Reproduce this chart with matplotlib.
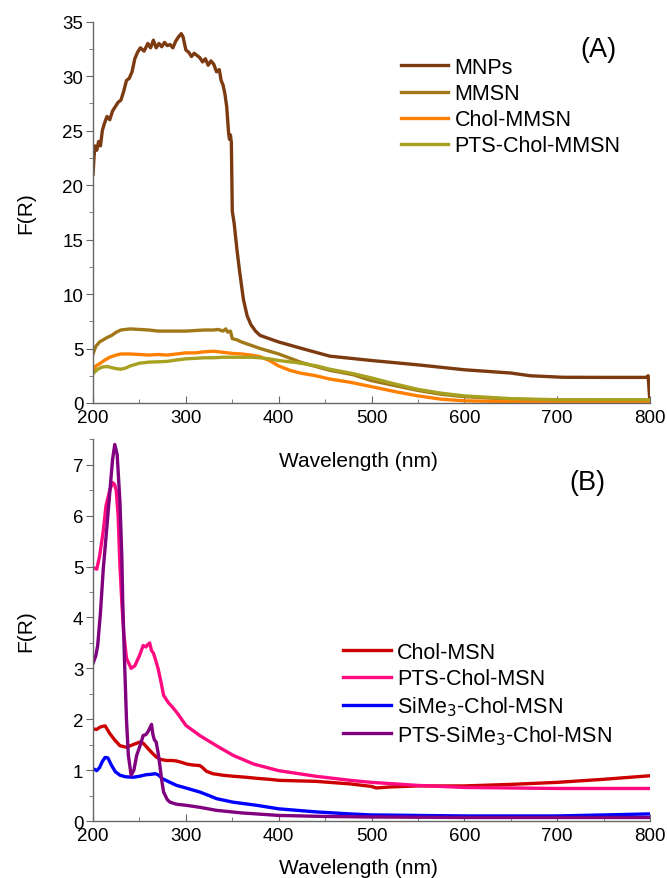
import numpy as np
import matplotlib
matplotlib.use("Agg")
import matplotlib.pyplot as plt
from matplotlib.ticker import MultipleLocator

plt.rcParams['font.family'] = ['Liberation Sans', 'DejaVu Sans']

# ---- panel A data ----
wl_mnps = [200, 201, 202, 204, 206, 208, 210, 212, 215, 218, 221, 224, 227, 230, 233, 236, 239, 242, 245,
           248, 251, 255, 259, 262, 265, 268, 271, 274, 277, 280, 283, 286, 289, 292, 295, 297, 300, 303,
           306, 309, 312, 315, 318, 321, 324, 327, 330, 333, 336, 338, 340, 342, 344, 345, 346, 347, 348,
           349, 350, 352, 355, 358, 362, 366, 370, 375, 380, 390, 400, 425, 455, 500, 550, 600, 650, 671,
           706, 750, 796, 798, 800]
f_mnps = [21.0, 22.5, 23.6, 23.2, 24.0, 23.6, 25.0, 25.6, 26.3, 26.0, 26.8, 27.2, 27.6, 27.8, 28.6, 29.6,
          29.8, 30.4, 31.6, 32.2, 32.6, 32.3, 33.0, 32.6, 33.3, 32.6, 33.0, 32.7, 33.1, 32.8, 32.9, 32.6,
          33.2, 33.6, 33.9, 33.6, 32.4, 32.2, 31.8, 32.1, 31.9, 31.7, 31.3, 31.6, 31.0, 31.4, 31.1, 30.4,
          30.6, 29.6, 29.2, 28.4, 27.2, 26.0, 24.8, 24.2, 24.6, 23.9, 17.6, 16.5, 14.1, 12.0, 9.5, 8.0,
          7.2, 6.6, 6.2, 5.9, 5.6, 5.0, 4.3, 3.9, 3.5, 3.05, 2.75, 2.5, 2.36, 2.35, 2.35, 2.5, 0.0]

wl_mmsn = [200, 203, 207, 211, 215, 220, 225, 230, 240, 250, 260, 270, 280, 290, 300, 310, 320, 330, 335,
           340, 343, 345, 348, 350, 355, 360, 370, 380, 400, 425, 455, 480, 500, 525, 550, 575, 600, 650,
           700, 750, 800]
f_mmsn = [4.5, 5.2, 5.6, 5.8, 6.0, 6.2, 6.5, 6.7, 6.8, 6.75, 6.7, 6.6, 6.6, 6.6, 6.6, 6.65, 6.7, 6.7, 6.75,
          6.6, 6.8, 6.5, 6.6, 5.9, 5.8, 5.6, 5.3, 5.0, 4.5, 3.7, 3.0, 2.6, 2.05, 1.6, 1.15, 0.8, 0.58, 0.35,
          0.25, 0.2, 0.2]

wl_chol_mmsn = [200, 203, 207, 212, 218, 225, 230, 240, 250, 260, 270, 280, 290, 300, 310, 320, 330, 340,
                350, 360, 370, 380, 390, 400, 412, 423, 440, 455, 477, 500, 525, 550, 575, 600, 650, 700,
                800]
f_chol_mmsn = [3.0, 3.4, 3.6, 3.9, 4.2, 4.4, 4.5, 4.5, 4.45, 4.4, 4.45, 4.4, 4.5, 4.6, 4.6, 4.7, 4.75, 4.65,
               4.55, 4.5, 4.4, 4.25, 3.9, 3.4, 3.0, 2.75, 2.5, 2.2, 1.9, 1.5, 1.05, 0.65, 0.35, 0.2, 0.12,
               0.1, 0.1]

wl_pts_chol_mmsn = [200, 205, 210, 215, 220, 225, 230, 235, 240, 250, 260, 270, 280, 290, 295, 300, 310,
                    320, 330, 340, 350, 360, 370, 380, 390, 400, 420, 441, 455, 480, 500, 525, 550, 575,
                    600, 650, 700, 800]
f_pts_chol_mmsn = [2.7, 3.1, 3.3, 3.35, 3.25, 3.15, 3.1, 3.2, 3.4, 3.65, 3.75, 3.78, 3.82, 3.95, 4.0, 4.05,
                   4.1, 4.15, 4.15, 4.2, 4.2, 4.2, 4.2, 4.15, 4.05, 3.9, 3.7, 3.4, 3.1, 2.7, 2.3, 1.75, 1.25,
                   0.9, 0.65, 0.4, 0.3, 0.3]

# ---- panel B data ----
wl_chol_msn = [200, 204, 207, 210, 213, 218, 223, 229, 236, 243, 250, 254, 258, 263, 268, 273, 279, 285,
               290, 296, 301, 308, 315, 318, 322, 329, 340, 351, 365, 376, 390, 400, 440, 477, 500, 505,
               520, 550, 600, 650, 700, 750, 800]
f_chol_msn = [1.81, 1.8, 1.84, 1.86, 1.87, 1.72, 1.6, 1.48, 1.45, 1.5, 1.55, 1.53, 1.45, 1.35, 1.26, 1.21,
              1.19, 1.19, 1.18, 1.15, 1.12, 1.1, 1.09, 1.05, 0.98, 0.93, 0.9, 0.88, 0.86, 0.84, 0.82, 0.8,
              0.78, 0.73, 0.68, 0.65, 0.67, 0.69, 0.69, 0.72, 0.76, 0.82, 0.89]

wl_pts_chol_msn = [200, 204, 207, 211, 214, 218, 221, 223, 225, 227, 229, 231, 233, 236, 241, 245, 250,
                   254, 257, 259, 261, 263, 265, 267, 270, 273, 276, 281, 285, 290, 300, 315, 333, 351,
                   373, 400, 440, 477, 500, 550, 600, 700, 800]
f_pts_chol_msn = [4.98, 4.95, 5.2, 5.7, 6.2, 6.5, 6.65, 6.62, 6.5, 6.0, 5.0, 4.3, 3.7, 3.2, 3.0, 3.05, 3.25,
                  3.45, 3.42, 3.47, 3.5, 3.35, 3.3, 3.19, 3.0, 2.75, 2.47, 2.33, 2.25, 2.14, 1.88, 1.68, 1.48,
                  1.29, 1.12, 0.99, 0.88, 0.8, 0.76, 0.7, 0.66, 0.64, 0.64]

wl_sime3 = [200, 204, 207, 210, 213, 216, 220, 224, 229, 235, 243, 250, 257, 263, 267, 270, 275, 283, 290,
            300, 315, 325, 333, 351, 376, 400, 440, 477, 500, 600, 700, 800]
f_sime3 = [1.03, 0.99, 1.05, 1.17, 1.25, 1.24, 1.09, 0.97, 0.9, 0.87, 0.86, 0.88, 0.91, 0.92, 0.93, 0.91,
           0.83, 0.76, 0.7, 0.65, 0.57, 0.5, 0.44, 0.37, 0.31, 0.24, 0.18, 0.14, 0.12, 0.1, 0.1, 0.14]

wl_pts_sime3 = [200, 203, 205, 208, 211, 215, 218, 221, 223.4, 226, 229, 231, 232, 234, 236, 238, 241,
                244, 247, 251, 254, 257, 259, 261, 263, 264.5, 266, 268, 270, 272, 274, 276, 280, 283, 290,
                300, 315, 333, 360, 400, 450, 500, 600, 700, 800]
f_pts_sime3 = [3.1, 3.25, 3.45, 4.1, 4.95, 5.8, 6.45, 7.1, 7.4, 7.2, 6.26, 5.2, 4.3, 3.1, 2.0, 1.3, 0.9,
               1.0, 1.29, 1.5, 1.68, 1.7, 1.75, 1.82, 1.9, 1.7, 1.6, 1.55, 1.35, 1.09, 0.8, 0.57, 0.42, 0.37,
               0.33, 0.31, 0.27, 0.21, 0.16, 0.11, 0.09, 0.08, 0.07, 0.07, 0.07]

labels_a = ['MNPs', 'MMSN', 'Chol-MMSN', 'PTS-Chol-MMSN']
colors_a = ['#7B3A10', '#A07818', '#FF8000', '#A8A020']
labels_b = ['Chol-MSN', 'PTS-Chol-MSN', r'SiMe$_3$-Chol-MSN', r'PTS-SiMe$_3$-Chol-MSN']
colors_b = ['#CC0000', '#FF0A80', '#0000FF', '#800080']

fig = plt.figure(figsize=(6.67, 8.79), dpi=100)
ax1 = fig.add_axes([0.1395, 0.5404, 0.835, 0.4338])
ax2 = fig.add_axes([0.1395, 0.0648, 0.835, 0.4342])
ax2.patch.set_visible(False)

series_a = [(wl_mnps, f_mnps), (wl_mmsn, f_mmsn), (wl_chol_mmsn, f_chol_mmsn), (wl_pts_chol_mmsn, f_pts_chol_mmsn)]
for (x, y), lab, c in zip(series_a, labels_a, colors_a):
    ax1.plot(x, y, color=c, lw=2.4, label=lab)

series_b = [(wl_chol_msn, f_chol_msn), (wl_pts_chol_msn, f_pts_chol_msn), (wl_sime3, f_sime3), (wl_pts_sime3, f_pts_sime3)]
for (x, y), lab, c in zip(series_b, labels_b, colors_b):
    ax2.plot(x, y, color=c, lw=2.4, label=lab)

for ax, ymax, ymaj, xl_y in [(ax1, 35, 5, -0.126), (ax2, 7.5, 1, -0.097)]:
    ax.set_xlim(200, 800)
    ax.set_ylim(0, ymax)
    ax.xaxis.set_major_locator(MultipleLocator(100))
    ax.xaxis.set_minor_locator(MultipleLocator(50))
    ax.yaxis.set_major_locator(MultipleLocator(ymaj))
    ax.yaxis.set_minor_locator(MultipleLocator(ymaj / 2))
    for s in ['top', 'right']:
        ax.spines[s].set_visible(False)
    for s in ['left', 'bottom']:
        ax.spines[s].set_color('#666666')
        ax.spines[s].set_linewidth(1.0)
    ax.tick_params(axis='x', which='both', direction='in', colors='#666666', labelcolor='black',
                   labelsize=13.5, pad=4)
    ax.tick_params(axis='y', which='both', direction='out', colors='#666666', labelcolor='black',
                   labelsize=13.5, pad=2)
    ax.tick_params(which='major', length=5)
    ax.tick_params(which='minor', length=3)
    ax.set_xlabel('Wavelength (nm)', fontsize=15)
    ax.xaxis.set_label_coords(0.476, xl_y)
    ax.set_ylabel('F(R)', fontsize=15)
    ax.yaxis.set_label_coords(-0.104, 0.5)

ax1.text(744, 32.5, '(A)', fontsize=19.5, ha='center', va='center')
ax2.text(733, 6.66, '(B)', fontsize=19.5, ha='center', va='center')

ax1.legend(loc='upper left', bbox_to_anchor=(0.537, 0.93), frameon=False, fontsize=15.5,
           handlelength=2.2, handletextpad=0.3, labelspacing=0.24, borderaxespad=0)
ax2.legend(loc='upper left', bbox_to_anchor=(0.434, 0.492), frameon=False, fontsize=15.5,
           handlelength=2.2, handletextpad=0.3, labelspacing=0.24, borderaxespad=0)

fig.savefig('out.png', dpi=100)
